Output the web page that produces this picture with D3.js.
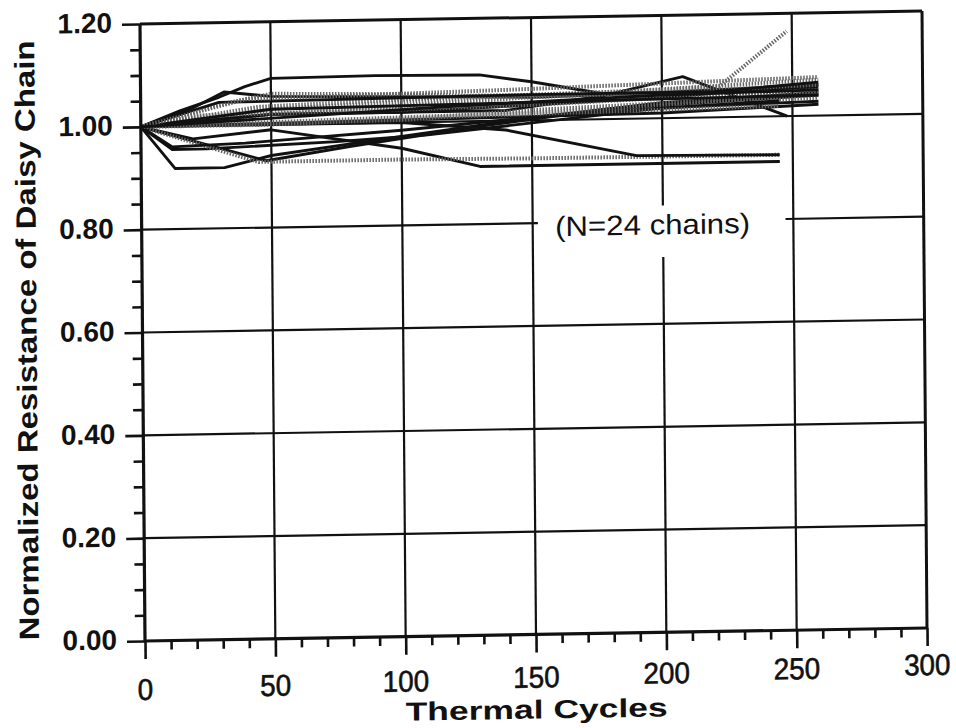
<!DOCTYPE html>
<html><head><meta charset="utf-8">
<script src="https://cdn.jsdelivr.net/npm/d3@7/dist/d3.min.js"></script>
<style>body{margin:0;background:#fff}svg{display:block}</style>
</head><body>
<svg id="chart" width="956" height="728"></svg>
<script>
// ---- data (cycle, normalized resistance) ----
const xTicks = [0, 50, 100, 150, 200, 250, 300];
const yTicks = [0.00, 0.20, 0.40, 0.60, 0.80, 1.00, 1.20];
const xTitle = "Thermal Cycles";
const yTitle = "Normalized Resistance of Daisy Chain";
const note = "(N=24 chains)";

const c01 = [[0,1.00],[13,0.918],[32,0.918],[50,0.94],[100,0.973],[150,1.005],[200,1.03],[260,1.045]];
const c02 = [[0,1.00],[12,0.955],[25,0.955],[75,0.965],[110,0.975],[150,0.995],[200,1.02],[260,1.028]];
const c03 = [[0,1.00],[48,0.93],[80,0.955],[130,0.99],[180,1.02],[260,1.04]];
const c04 = [[0,1.00],[20,0.975],[50,0.99],[100,0.95],[130,0.912],[245,0.912]];
const c05 = [[0,1.00],[45,0.928],[100,0.928],[150,0.926],[245,0.925]];
const c06 = [[0,1.00],[50,1.0],[100,1.0],[140,0.982],[190,0.928],[245,0.925]];
const c07 = [[0,1.00],[15,1.03],[30,1.055],[40,1.075],[50,1.09],[90,1.092],[130,1.09],[150,1.075],[177,1.05],[220,1.05],[260,1.055]];
const c08 = [[0,1.00],[20,1.035],[32,1.065],[50,1.055],[100,1.05],[150,1.045],[200,1.05],[260,1.06]];
const c09 = [[0,1.00],[50,1.03],[100,1.04],[150,1.05],[200,1.055],[222,1.06],[248,1.165]];
const c10 = [[0,1.00],[50,1.02],[140,1.02],[177,1.045],[208,1.08],[248,1.0]];
const c11 = [[0,1.00],[50,1.02],[150,1.045],[260,1.07]];
const c12 = [[0,1.00],[45,1.035],[130,1.05],[260,1.045]];
const c13 = [[0,1.00],[50,1.005],[150,1.015],[260,1.035]];
const c14 = [[0,1.00],[50,1.02],[100,1.02],[200,1.04],[260,1.06]];
const c15 = [[0,1.00],[100,1.005],[200,1.01],[260,1.022]];
const c16 = [[0,1.00],[30,1.04],[50,1.06],[100,1.055],[150,1.045],[200,1.05],[260,1.06]];
const c17 = [[0,1.00],[100,1.005],[150,1.02],[260,1.04]];
const c18 = [[0,1.00],[20,1.02],[100,1.025],[150,1.03],[260,1.05]];
const c19 = [[0,1.00],[30,1.045],[150,1.05],[220,1.05],[260,1.065]];
const c20 = [[0,1.00],[50,1.03],[150,1.035],[260,1.04]];
const c21 = [[0,1.00],[40,1.05],[140,1.06],[260,1.075]];
const c22 = [[0,1.00],[12,0.96],[40,0.965],[100,0.985],[160,1.01],[245,1.03]];
const c23 = [[0,1.00],[48,1.0],[120,1.01],[245,1.02]];
const c24 = [[0,1.00],[40,1.01],[120,1.03],[200,1.045],[260,1.05]];

const chains = [c01,c02,c03,c04,c05,c06,c07,c08,c09,c10,c11,c12,c13,c14,c15,c16,c17,c18,c19,c20,c21,c22,c23,c24];
const stippled = [false,false,false,false,true,false,false,false,true,false,true,true,true,false,false,true,true,true,false,false,true,false,true,false];

// ---- layout ----
const W = 782, H = 617;
const svg = d3.select("#chart");
// slight skew of the scanned page
const g = svg.append("g").attr("transform", "matrix(1,-0.0166,0.0081,1,140,24)");

const x = d3.scaleLinear().domain([0, 300]).range([0, W]);
const y = d3.scaleLinear().domain([0, 1.2]).range([H, 0]);

const black = "#111";

// grid lines
const gridG = g.append("g").attr("stroke", black).attr("stroke-width", 2.2);
yTicks.filter(t => t > 0 && t < 1.2).forEach(t => {
  if (Math.abs(t - 0.8) < 1e-6) {
    gridG.append("line").attr("x1", x(0)).attr("x2", x(152)).attr("y1", y(t)).attr("y2", y(t));
    gridG.append("line").attr("x1", x(247)).attr("x2", x(300)).attr("y1", y(t)).attr("y2", y(t));
  } else {
    gridG.append("line").attr("x1", x(0)).attr("x2", x(300)).attr("y1", y(t)).attr("y2", y(t));
  }
});
xTicks.filter(t => t > 0 && t < 300).forEach(t => {
  if (t === 200) {
    gridG.append("line").attr("x1", x(t)).attr("x2", x(t)).attr("y1", y(1.2)).attr("y2", y(0.83));
    gridG.append("line").attr("x1", x(t)).attr("x2", x(t)).attr("y1", y(0.73)).attr("y2", y(0));
  } else {
    gridG.append("line").attr("x1", x(t)).attr("x2", x(t)).attr("y1", y(1.2)).attr("y2", y(0));
  }
});

// data lines
const line = d3.line().x(d => x(d[0])).y(d => y(d[1]));
const dataG = g.append("g").attr("fill", "none").attr("stroke-linejoin", "round");
chains.forEach((c, i) => {
  if (stippled[i]) {
    dataG.append("path").attr("d", line(c)).attr("stroke", "#666").attr("stroke-width", 4)
      .attr("stroke-dasharray", "1.5,1.5");
  } else {
    dataG.append("path").attr("d", line(c)).attr("stroke", black).attr("stroke-width", 2.9);
  }
});

// axes frame
const frame = g.append("g").attr("stroke", black).attr("fill", "none");
frame.append("line").attr("x1", x(0)).attr("x2", x(0)).attr("y1", y(1.2)).attr("y2", y(0)).attr("stroke-width", 3.2);
frame.append("line").attr("x1", x(0)).attr("x2", x(300)).attr("y1", y(0)).attr("y2", y(0)).attr("stroke-width", 3.2);
frame.append("line").attr("x1", x(0)).attr("x2", x(300)).attr("y1", y(1.2)).attr("y2", y(1.2)).attr("stroke-width", 3);
frame.append("line").attr("x1", x(300)).attr("x2", x(300)).attr("y1", y(1.2)).attr("y2", y(0)).attr("stroke-width", 3);

// ticks via d3 axes
const yAxis = d3.axisLeft(y).tickValues(d3.range(0, 1.2001, 0.05)).tickFormat("").tickSize(10).tickSizeOuter(0);
const yAx = g.append("g").call(yAxis);
yAx.select(".domain").remove();
yAx.selectAll(".tick line").attr("stroke", black).attr("stroke-width", 2.6)
  .attr("x2", d => (Math.round(d * 100) % 20 === 0) ? -18 : -10);

const xAxis = d3.axisBottom(x).tickValues(d3.range(0, 301, 10)).tickFormat("").tickSize(9).tickSizeOuter(0);
const xAx = g.append("g").attr("transform", `translate(0,${H})`).call(xAxis);
xAx.select(".domain").remove();
xAx.selectAll(".tick line").attr("stroke", black).attr("stroke-width", 2.6)
  .attr("y2", d => (d % 50 === 0) ? 18 : 9);

// tick labels
g.append("g").selectAll("text").data(yTicks).join("text")
  .attr("x", -28).attr("y", d => y(d) + 8)
  .attr("text-anchor", "end")
  .attr("font-family", "Liberation Sans, Arial, sans-serif")
  .attr("font-weight", "bold").attr("font-size", 28).attr("fill", black)
  .text(d => d.toFixed(2));

g.append("g").selectAll("text").data(xTicks).join("text")
  .attr("x", d => x(d)).attr("y", d => H + 59 - 12 * d / 300)
  .attr("text-anchor", "middle")
  .attr("font-family", "Liberation Sans, Arial, sans-serif")
  .attr("font-size", 30).attr("fill", black)
  .attr("stroke", black).attr("stroke-width", 0.6)
  .attr("textLength", d => String(d).length * 15.5).attr("lengthAdjust", "spacingAndGlyphs")
  .text(d => String(d));

// titles
g.append("text").attr("x", x(150)).attr("y", H + 84)
  .attr("text-anchor", "middle")
  .attr("font-family", "Liberation Sans, Arial, sans-serif")
  .attr("font-weight", "bold").attr("font-size", 26).attr("fill", black)
  .attr("textLength", 262).attr("lengthAdjust", "spacingAndGlyphs")
  .text(xTitle);

g.append("text").attr("transform", `translate(-106,${y(0.6) + 6}) rotate(-90)`)
  .attr("text-anchor", "middle")
  .attr("font-family", "Liberation Sans, Arial, sans-serif")
  .attr("font-weight", "bold").attr("font-size", 28).attr("fill", black)
  .attr("textLength", 600).attr("lengthAdjust", "spacingAndGlyphs")
  .text(yTitle);

// annotation
g.append("text").attr("x", x(196)).attr("y", y(0.774))
  .attr("text-anchor", "middle")
  .attr("font-family", "Liberation Sans, Arial, sans-serif")
  .attr("font-size", 28).attr("fill", black)
  .attr("textLength", 195).attr("lengthAdjust", "spacingAndGlyphs")
  .text(note);
</script>
</body></html>
